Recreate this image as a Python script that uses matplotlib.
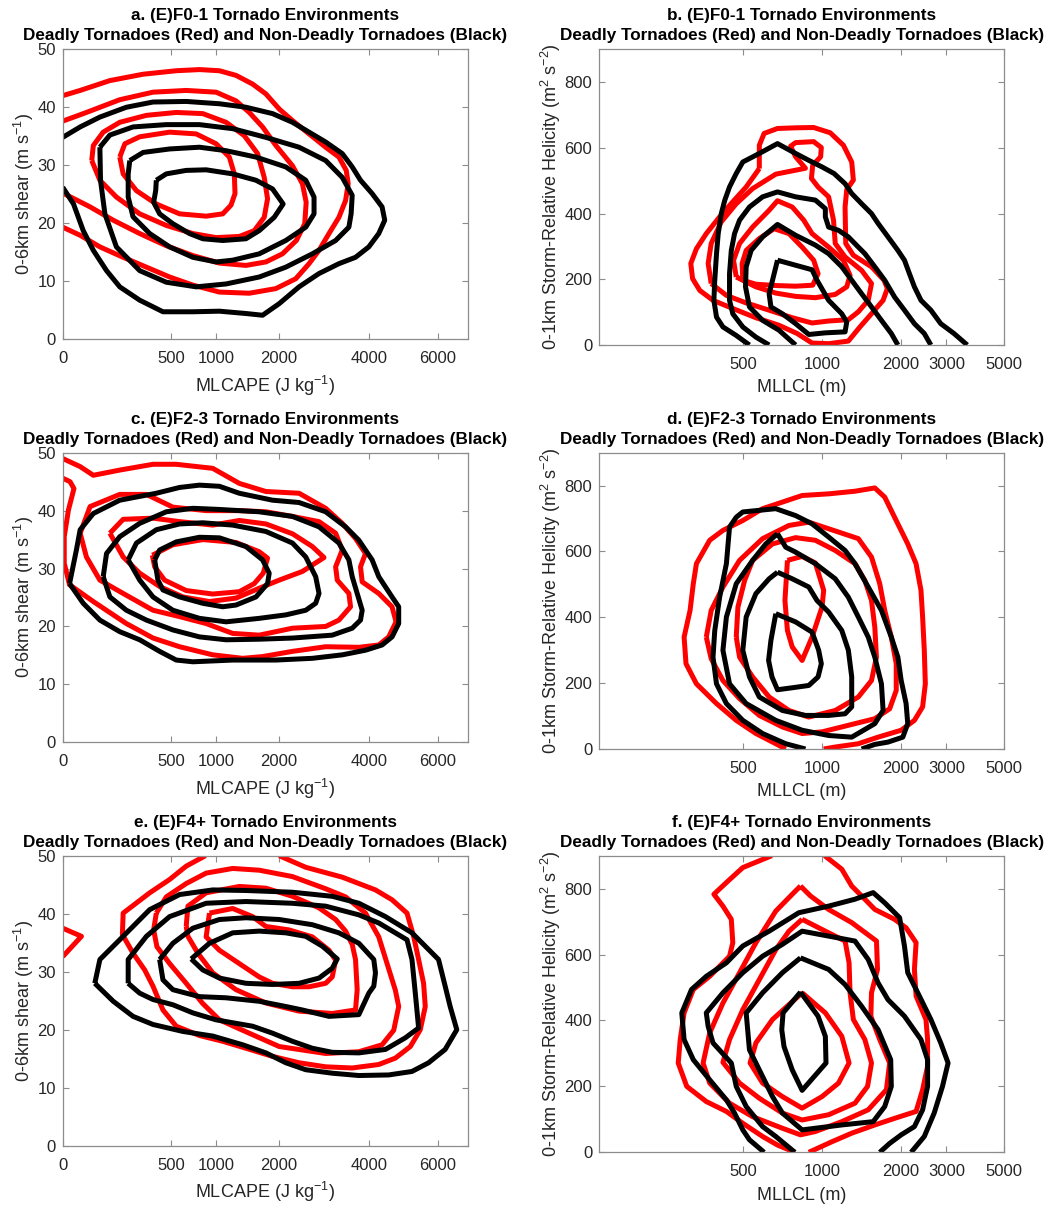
import numpy as np
import matplotlib
matplotlib.use('Agg')
import matplotlib.pyplot as plt
from matplotlib.ticker import NullLocator, FixedLocator, FixedFormatter

plt.rcParams['font.family'] = ['Liberation Sans', 'DejaVu Sans']
plt.rcParams['mathtext.fontset'] = 'custom'
plt.rcParams['mathtext.rm'] = 'Liberation Sans'
plt.rcParams['mathtext.it'] = 'Liberation Sans:italic'
plt.rcParams['mathtext.bf'] = 'Liberation Sans:bold'

# ---------------- data: contour outlines ----------------
# Panel a: (E)F0-1, x = MLCAPE (J/kg), y = 0-6 km shear (m/s)
A_R1_X = [0,13,95,276,550,798,1048,1282,1539,1762,2000,2253,2590,2951,3256,3431,3479,3415,3256,3026,2804,2590,2318,1939,1486,1048,723,488,299,156,59,13,0]
A_R1_Y = [42.0,42.9,44.6,45.7,46.3,46.5,46.3,45.5,44.0,42.3,39.7,37.7,35.4,33.1,31.4,29.1,26.8,23.9,21.0,18.2,15.3,13.0,10.4,8.7,7.9,8.1,9.3,10.7,12.4,14.1,15.9,17.9,19.3]
A_R2_X = [0,24,139,348,651,1004,1282,1486,1705,1939,2253,2452,2530,2500,2330,2061,1762,1433,1048,723,458,253,109,32,0]
A_R2_Y = [37.6,39.1,41.3,42.6,42.9,42.6,41.1,39.1,36.6,33.4,29.9,26.8,23.6,19.9,17.0,14.7,13.3,12.7,13.1,14.4,16.1,18.2,20.5,22.8,25.2]
A_R3_X = [36,40,70,139,299,550,838,1139,1407,1621,1733,1791,1733,1566,1331,1004,723,458,253,123,59,36]
A_R3_Y = [30.8,33.4,35.7,37.4,38.6,39.1,38.9,37.4,35.1,32.0,27.9,24.2,21.0,18.7,17.7,17.5,18.2,19.6,21.6,24.5,27.4,30.8]
A_R4_X = [139,165,253,488,760,1004,1185,1257,1267,1209,1093,878,583,374,232,156,139]
A_R4_Y = [31.4,33.7,34.9,35.7,35.4,33.7,31.4,28.5,25.1,23.1,21.6,21.2,21.6,23.3,25.6,28.5,31.4]
A_K1_X = [0,13,59,173,348,651,1048,1433,1879,2253,2590,2951,3335,3577,3785,4086,4353,4426,4263,3999,3659,3256,2804,2384,2000,1705,1433,1048,723,429,253,139,82,40,18,5,0]
A_K1_Y = [34.8,36.6,38.3,40.0,40.9,41.0,40.6,40.0,38.9,37.4,35.7,34.0,32.0,29.7,27.4,25.1,22.8,20.5,18.2,15.9,14.1,13.0,11.3,9.0,6.1,4.1,4.4,4.8,4.7,4.7,6.7,9.0,11.8,15.3,18.7,23.3,26.2]
A_K2_X = [59,95,211,458,798,1233,1762,2384,2951,3335,3577,3550,3495,3179,2660,2124,1648,1139,760,458,253,123,76,61,59]
A_K2_Y = [33.1,35.2,36.6,37.0,37.0,36.3,34.8,33.1,30.8,27.9,24.8,21.6,19.3,17.0,14.7,12.4,10.7,9.5,9.0,9.8,11.8,15.9,21.6,27.4,33.1]
A_K3_X = [192,276,488,798,1139,1594,2124,2521,2696,2696,2521,2124,1648,1233,1004,723,488,323,211,183,183,192]
A_K3_Y = [30.8,32.2,32.8,33.1,32.5,31.4,29.7,27.4,24.5,21.6,19.3,17.0,14.7,13.6,13.3,14.1,15.9,18.2,21.1,24.5,28.5,30.8]
A_K4_X = [374,458,651,878,1233,1594,1879,2074,1909,1648,1433,1093,838,686,518,401,353,369,374]
A_K4_Y = [27.4,28.5,29.1,29.2,28.5,27.4,25.9,23.3,21.0,18.7,17.3,17.0,17.3,18.2,19.9,21.6,23.6,25.6,27.4]

# Panel b: (E)F0-1, x = MLLCL (m), y = 0-1 km SRH (m2/s2)
B_R1_X = [575,575,600,675,792,929,1075,1208,1300,1319,1244,1226,1233,1319,1548,1730,1781,1715,1571,1398,1262,1060,916,803,684,558,455,382,340,319,314,330,360,405,455,512,575]
B_R1_Y = [537,608,644,659,661,662,646,608,557,502,473,420,309,273,238,197,172,136,101,55,12,4,6,35,60,83,111,136,166,202,248,293,339,390,436,481,537]
B_R2_X = [376,366,376,411,469,542,665,864,792,758,792,929,994,988,921,911,966,1060,1107,1124,1226,1419,1548,1504,1378,1262,1060,916,769,627,512,430,376]
B_R2_Y = [187,248,309,375,430,476,520,538,573,605,616,619,601,573,547,507,481,451,380,309,268,227,187,136,101,77,73,67,83,106,128,151,187]
B_R3_X = [469,458,483,542,627,675,769,851,916,1060,1208,1281,1244,1124,943,792,665,558,469]
B_R3_Y = [207,258,309,359,410,439,420,380,339,298,258,212,177,154,144,148,158,177,207]
B_R4_X = [497,494,512,575,655,747,839,929,966,921,792,665,558,497]
B_R4_Y = [197,248,288,324,354,339,298,258,217,182,179,181,185,197]
B_K1_X = [3605,3206,2853,2615,2396,2261,2164,2071,1954,1791,1641,1548,1419,1300,1226,1112,1000,890,792,675,575,497,469,442,424,411,400,394,388,385,394,417,469,527]
B_K1_Y = [0,35,65,106,136,177,217,258,288,329,370,400,430,461,491,522,542,562,583,613,583,557,522,481,441,400,339,278,197,136,85,55,29,0]
B_K2_X = [2615,2467,2261,2071,1898,1740,1594,1460,1378,1262,1157,1060,1030,1030,943,792,675,592,527,483,462,449,442,442,455,497,558,627]
B_K2_Y = [0,35,65,106,146,197,238,278,298,329,349,359,390,415,441,451,466,451,420,380,339,288,217,136,95,55,24,0]
B_K3_X = [1954,1844,1690,1548,1419,1300,1191,1060,943,792,675,592,535,512,509,527,592,684,792]
B_K3_Y = [0,35,75,116,156,197,238,278,304,334,367,329,288,238,177,116,75,45,0]
B_K4_X = [675,916,957,1060,1191,1244,1226,1030,890,792,705,637,627,646,675]
B_K4_Y = [258,229,197,136,95,70,40,37,32,65,95,116,156,197,258]

# Panel c: (E)F2-3, MLCAPE vs shear
C_R1_X = [0,13,40,139,348,550,961,1331,1762,2384,2951,3335,3659,3913,3785,3828,4263,4629,4742,4536,4263,3743,2951,2253,1705,1382,961,583,348,173,40,2,0.1,0.1,1.4,5.4,2.3,0]
C_R1_Y = [49.0,47.6,46.1,47.0,48.0,48.0,47.3,44.7,43.3,43.0,40.4,37.8,35.2,32.6,30.3,27.7,25.7,23.4,20.8,18.2,16.8,16.4,16.5,15.7,14.8,14.5,15.1,16.5,18.0,20.5,24.3,27.2,30.9,35.5,40.1,43.8,45.0,45.6]
C_R2_X = [13,32,139,299,518,878,1331,1762,2253,2804,3179,3335,3179,3217,3495,3536,3256,2951,2253,1648,1233,878,583,348,156,59,24,13]
C_R2_Y = [36.1,40.7,42.8,42.8,40.6,40.0,40.0,39.8,39.0,38.1,36.1,33.2,30.3,28.0,25.7,23.4,21.1,20.0,19.7,18.5,18.8,20.5,21.7,22.8,25.7,28.0,32.0,36.1]
C_R3_X = [95,156,348,583,961,1331,1762,2253,2660,2914,2452,2000,1648,1282,919,616,401,253,156,95]
C_R3_Y = [36.1,38.5,38.7,38.1,37.5,38.3,37.7,36.0,33.8,31.9,29.5,28.0,26.6,24.9,24.3,25.1,26.9,29.2,32.0,36.1]
C_R4_X = [343,518,838,1282,1648,1791,1716,1566,1331,961,651,443,361,343]
C_R4_Y = [32.3,34.1,35.0,34.5,32.9,31.8,29.2,27.4,26.0,25.6,26.2,28.0,30.3,32.3]
C_K1_X = [2,8,13,40,139,374,583,798,1048,1331,1879,2384,2951,3415,3742,4086,4263,4629,4818,4818,4629,4353,3913,3335,2660,1939,1233,723,550,401,253,139,59,18,2]
C_K1_Y = [27.4,33.2,36.7,39.5,41.8,43.0,44.0,44.4,44.2,43.0,41.8,41.4,39.8,37.2,34.9,31.5,28.6,25.1,23.4,20.5,18.2,16.8,15.9,15.1,14.5,14.2,14.2,13.9,14.2,15.7,17.7,19.1,21.1,24.0,27.4]
C_K2_X = [70,82,139,253,458,723,1048,1648,2253,2804,3256,3495,3577,3701,3828,3785,3577,3101,2253,1648,1139,798,518,299,173,95,70]
C_K2_Y = [28.6,32.6,35.5,37.8,39.8,40.4,40.2,39.8,39.0,37.2,34.4,31.5,28.6,25.7,22.8,21.1,19.7,18.5,18.0,17.8,17.7,18.2,19.4,21.1,22.8,25.1,28.6]
C_K3_X = [183,232,374,583,838,1233,1762,2253,2521,2731,2804,2731,2521,2124,1648,1139,798,518,348,253,183]
C_K3_Y = [31.5,34.4,36.7,37.7,37.9,37.5,36.4,34.4,32.0,28.6,25.7,24.0,22.8,22.0,21.4,20.8,21.4,22.8,25.1,28.0,31.5]
C_K4_X = [361,401,550,798,1048,1433,1705,1820,1791,1594,1282,1093,838,583,429,387,361]
C_K4_Y = [31.5,33.2,34.6,35.4,35.3,33.8,31.5,29.2,27.4,25.1,23.7,23.4,24.0,25.1,26.3,28.0,31.5]

# Panel d: (E)F2-3, MLLCL vs SRH
D_R1_X = [1015,1124,1378,1641,2012,2261,2431,2490,2467,2431,2396,2294,2132,1898,1740,1594,1338,1060,839,705,592,497,417,371,330,321,312,296,301,330,394,469,558,665,726]
D_R1_Y = [0,6,16,36,57,87,128,198,300,401,482,563,623,704,765,793,783,775,770,750,730,694,664,634,563,502,421,340,259,198,138,87,47,16,0]
D_R2_X = [360,376,417,483,592,747,890,1060,1378,1548,1665,1740,1844,1926,1926,1817,1594,1262,1000,839,705,575,483,417,376,360]
D_R2_Y = [340,421,492,573,639,679,689,669,639,583,502,421,340,259,178,122,92,72,52,47,67,102,153,208,274,340]
D_R3_X = [469,476,505,542,646,792,943,1124,1338,1460,1548,1594,1617,1548,1378,1124,890,747,627,542,483,469]
D_R3_Y = [340,431,512,573,623,642,634,603,563,512,451,370,279,208,158,117,97,117,158,219,279,340]
D_R4_X = [737,839,943,1015,1000,916,839,769,737,721,737]
D_R4_Y = [573,585,565,482,431,340,269,310,360,451,573]
D_K1_X = [864,726,592,497,430,394,382,388,405,430,442,469,497,665,792,916,1060,1226,1338,1504,1690,1844,1954,2012,2101,2132,2041,1791,1594,1419]
D_K1_Y = [0,16,47,87,138,198,279,360,461,563,674,704,720,730,709,684,644,603,563,492,421,340,279,208,138,77,36,21,14,0]
D_K2_X = [675,726,792,943,1124,1262,1378,1504,1594,1690,1715,1594,1300,1060,839,665,512,442,417,430,469,542,609,675]
D_K2_Y = [654,613,598,563,517,461,401,340,279,198,117,77,36,41,57,87,138,198,300,401,502,573,623,654]
D_K3_X = [675,769,890,957,1060,1191,1262,1300,1300,1226,1060,864,705,575,527,497,512,558,627,675]
D_K3_Y = [537,517,492,451,416,360,300,219,128,107,102,102,117,158,219,300,401,472,517,537]
D_K4_X = [665,792,916,971,994,966,890,769,675,643,624,637,665]
D_K4_Y = [411,386,355,300,259,219,193,186,180,219,269,330,411]

# Panel e: (E)F4+, MLCAPE vs shear
E_R0_X = [0,15,0]
E_R0_Y = [37.5,36.1,32.6]
E_R1_X = [870,651,488,323,156,152,211,287,348,429,550,798,1093,1433,1879,2384,2951,3577,4263,4723,5157,5457,5610,5558,5406,5256,5059,4629,4175,3335,2521,2000]
E_R1_Y = [50.0,48.2,45.9,43.6,40.1,36.4,33.2,30.3,27.5,23.4,20.6,19.0,18.0,16.8,15.4,14.3,13.6,13.4,14.0,15.1,17.1,20.0,24.0,28.0,32.1,36.1,40.1,42.4,44.1,46.3,48.0,50.0]
E_R2_X = [374,353,379,488,651,838,1048,1382,2000,2951,3743,4353,4676,4818,4723,4490,4263,3913,3415,2951,2253,1648,1233,878,651,458,374]
E_R2_Y = [40.1,37.2,34.3,31.4,28.0,24.5,21.7,19.9,17.1,15.9,16.2,17.4,19.9,24.0,26.8,31.4,36.0,40.1,42.9,44.3,46.4,47.5,47.8,47.0,45.2,42.9,40.1]
E_R3_X = [651,669,878,1331,1762,2253,2804,3179,3415,3577,3659,3701,3659,3101,2384,1762,1282,961,779,669,651]
E_R3_Y = [37.8,41.3,43.6,44.7,44.4,43.0,41.0,39.0,37.0,34.7,32.1,26.9,23.4,22.8,23.2,24.6,26.9,29.8,33.2,36.1,37.8]
E_R4_X = [919,1233,1539,1762,2188,2660,3026,3179,3101,2951,2590,2253,1879,1648,1331,1048,878,919]
E_R4_Y = [40.1,40.9,39.5,37.8,37.2,36.0,33.7,32.0,29.1,28.0,27.4,27.4,28.0,29.1,31.4,33.7,36.0,40.1]
E_K1_X = [44,59,156,323,583,961,1433,2253,3101,3743,4445,5206,6028,6243,6407,6628,6243,5713,5206,4536,3743,3101,2521,2124,1762,1382,961,616,348,211,109,44]
E_K1_Y = [28.0,32.1,36.1,40.7,43.3,44.1,44.0,43.7,43.0,41.8,39.5,36.7,32.1,27.5,24.0,20.0,16.6,14.3,12.8,12.2,12.1,12.5,13.1,14.3,16.0,17.4,18.9,19.7,20.9,22.3,24.9,28.0]
E_K2_X = [183,183,299,488,878,1433,2253,2951,3743,4263,5059,5206,5306,5406,5010,4445,3743,3101,2660,2253,1879,1539,1004,723,518,348,253,183]
E_K2_Y = [28.0,32.1,36.1,39.5,41.8,42.1,41.8,41.3,39.8,38.4,35.5,32.1,26.3,20.3,18.6,16.6,16.0,16.1,16.8,18.0,19.4,20.6,21.7,22.9,24.3,25.2,26.3,28.0]
E_K3_X = [401,518,723,1048,1433,2000,2660,3256,3743,4130,4175,4130,3999,3743,3026,2452,2124,1648,1139,798,518,429,401]
E_K3_Y = [32.1,34.9,37.5,39.0,39.3,39.0,38.1,36.7,34.9,32.1,29.8,27.5,26.3,22.6,22.3,23.4,24.0,24.9,25.5,25.7,26.9,28.6,32.1]
E_K4_X = [705,919,1233,1648,2124,2521,2877,3217,3101,2804,2384,1879,1433,1048,838,705]
E_K4_Y = [32.2,34.9,36.7,37.0,36.7,36.1,34.4,32.2,30.6,28.9,28.0,27.8,28.0,28.9,30.3,32.2]

# Panel f: (E)F4+, MLLCL vs SRH
F_R1A_X = [642,497,436,385,417,449,455,442,371,321,296,286,281,303,360,430,497,592,675,787]
F_R1A_Y = [900,864,823,783,747,707,636,595,534,494,423,342,271,200,154,124,88,48,22,0]
F_R1B_X = [1024,1191,1300,1460,1594,1898,2102,2295,2261,2295,2504,2540,2540,2431,2295,1898,1594,1300,1091,890]
F_R1B_Y = [900,859,808,768,737,707,681,636,555,474,403,342,261,190,124,103,83,58,32,0]
F_R2_X = [827,903,1060,1300,1618,1632,1548,1539,1665,1817,1766,1504,1191,943,827,705,542,442,371,350,371,417,483,558,665,769,827]
F_R2_Y = [808,778,737,697,641,555,484,413,342,271,190,129,93,63,53,73,108,149,210,271,362,453,545,636,732,783,808]
F_R3_X = [839,1030,1226,1270,1281,1319,1460,1548,1495,1338,1060,839,705,575,483,417,442,497,575,665,747,839]
F_R3_Y = [707,671,641,575,484,403,342,271,200,149,114,98,119,164,210,273,342,433,524,615,671,707]
F_R4_X = [839,1030,1191,1270,1157,1000,839,705,592,530,558,646,747,839]
F_R4_Y = [484,423,352,271,210,169,134,169,210,271,332,403,448,484]
F_K1_X = [600,527,497,462,430,371,321,296,290,316,360,430,497,627,815,1060,1338,1571,1740,1984,2071,2132,2363,2615,2853,3044,2897,2692,2467,2196]
F_K1_Y = [0,38,68,119,159,220,281,342,423,494,534,575,626,671,727,747,768,788,757,712,626,545,474,403,332,271,200,119,48,0]
F_K2_X = [787,665,592,512,469,449,382,366,360,417,497,592,705,839,1060,1338,1504,1641,1791,2071,2396,2540,2540,2431,2261,2012,1817,1665]
F_K2_Y = [0,48,78,139,200,271,332,382,423,484,545,595,631,671,656,641,585,514,463,413,342,281,200,129,78,53,27,0]
F_K3_X = [827,1060,1226,1419,1641,1834,1844,1740,1571,1191,839,705,646,575,527,512,592,705,827]
F_K3_Y = [590,555,509,443,372,281,200,139,93,83,68,119,169,250,311,423,484,545,590]
F_K4_X = [827,966,1030,1036,839,769,715,701,709,827]
F_K4_Y = [486,413,352,271,188,250,321,372,423,486]

# axis ticks / labels
CAPE_TICKS = [0, 500, 1000, 2000, 4000, 6000]
CAPE_LABELS = ['0', '500', '1000', '2000', '4000', '6000']
SHEAR_TICKS = [0, 10, 20, 30, 40, 50]
LCL_TICKS = [500, 1000, 2000, 3000, 5000]
LCL_LABELS = ['500', '1000', '2000', '3000', '5000']
SRH_TICKS = [0, 200, 400, 600, 800]
TITLES = ['a. (E)F0-1 Tornado Environments', 'b. (E)F0-1 Tornado Environments',
          'c. (E)F2-3 Tornado Environments', 'd. (E)F2-3 Tornado Environments',
          'e. (E)F4+ Tornado Environments', 'f. (E)F4+ Tornado Environments']
SUBTITLE = 'Deadly Tornadoes (Red) and Non-Deadly Tornadoes (Black)'

# ---------------- figure ----------------
W, H = 1059, 1205
fig = plt.figure(figsize=(W / 100, H / 100), dpi=100)


def add_axes(l, t, r, b):
    return fig.add_axes([l / W, 1 - b / H, (r - l) / W, (b - t) / H])


boxes = [(62.7, 49.3, 467.7, 339), (599.3, 49.3, 1004.3, 345),
         (62.7, 452.7, 467.7, 742.3), (599.3, 452.7, 1004.3, 749),
         (62.7, 855.7, 467.7, 1145.7), (599.3, 855.7, 1004.3, 1152.3)]

panels = [
    ('cape', [(A_R1_X, A_R1_Y), (A_R2_X, A_R2_Y), (A_R3_X, A_R3_Y), (A_R4_X, A_R4_Y)],
     [(A_K1_X, A_K1_Y), (A_K2_X, A_K2_Y), (A_K3_X, A_K3_Y), (A_K4_X, A_K4_Y)]),
    ('lcl', [(B_R1_X, B_R1_Y), (B_R2_X, B_R2_Y), (B_R3_X, B_R3_Y), (B_R4_X, B_R4_Y)],
     [(B_K1_X, B_K1_Y), (B_K2_X, B_K2_Y), (B_K3_X, B_K3_Y), (B_K4_X, B_K4_Y)]),
    ('cape', [(C_R1_X, C_R1_Y), (C_R2_X, C_R2_Y), (C_R3_X, C_R3_Y), (C_R4_X, C_R4_Y)],
     [(C_K1_X, C_K1_Y), (C_K2_X, C_K2_Y), (C_K3_X, C_K3_Y), (C_K4_X, C_K4_Y)]),
    ('lcl', [(D_R1_X, D_R1_Y), (D_R2_X, D_R2_Y), (D_R3_X, D_R3_Y), (D_R4_X, D_R4_Y)],
     [(D_K1_X, D_K1_Y), (D_K2_X, D_K2_Y), (D_K3_X, D_K3_Y), (D_K4_X, D_K4_Y)]),
    ('cape', [(E_R0_X, E_R0_Y), (E_R1_X, E_R1_Y), (E_R2_X, E_R2_Y), (E_R3_X, E_R3_Y), (E_R4_X, E_R4_Y)],
     [(E_K1_X, E_K1_Y), (E_K2_X, E_K2_Y), (E_K3_X, E_K3_Y), (E_K4_X, E_K4_Y)]),
    ('lcl', [(F_R1A_X, F_R1A_Y), (F_R1B_X, F_R1B_Y), (F_R2_X, F_R2_Y), (F_R3_X, F_R3_Y), (F_R4_X, F_R4_Y)],
     [(F_K1_X, F_K1_Y), (F_K2_X, F_K2_Y), (F_K3_X, F_K3_Y), (F_K4_X, F_K4_Y)]),
]


def sqrt_fwd(x):
    return np.sqrt(np.clip(x, 0, None))


def sqrt_inv(y):
    return np.square(y)


SPINE = '#8c8c8c'
TXT = '#262626'
LW = 3.6

for box, title, (kind, reds, blacks) in zip(boxes, TITLES, panels):
    ax = add_axes(*box)
    for x, y in reds:
        ax.plot(x, y, color='#ff0000', lw=LW, solid_joinstyle='round', solid_capstyle='butt')
    for x, y in blacks:
        ax.plot(x, y, color='#000000', lw=LW, solid_joinstyle='round', solid_capstyle='butt')
    if kind == 'cape':
        ax.set_xscale('function', functions=(sqrt_fwd, sqrt_inv))
        ax.set_xlim(0, 7000)
        ax.xaxis.set_major_locator(FixedLocator(CAPE_TICKS))
        ax.xaxis.set_major_formatter(FixedFormatter(CAPE_LABELS))
        ax.set_ylim(0, 50)
        ax.set_yticks(SHEAR_TICKS)
        ax.set_xlabel('MLCAPE (J kg$^{-1}$)', fontsize=13, color=TXT, labelpad=5.5)
        ax.set_ylabel('0-6km shear (m s$^{-1}$)', fontsize=13, color=TXT, labelpad=0.5)
    else:
        ax.set_xscale('log')
        ax.set_xlim(140, 5000)
        ax.xaxis.set_major_locator(FixedLocator(LCL_TICKS))
        ax.xaxis.set_major_formatter(FixedFormatter(LCL_LABELS))
        ax.set_ylim(0, 900)
        ax.set_yticks(SRH_TICKS)
        ax.set_xlabel('MLLCL (m)', fontsize=13, color=TXT, labelpad=5.5)
        ax.set_ylabel('0-1km Storm-Relative Helicity (m$^{2}$ s$^{-2}$)', fontsize=13, color=TXT, labelpad=1)
    ax.xaxis.set_minor_locator(NullLocator())
    ax.yaxis.set_minor_locator(NullLocator())
    for s in ax.spines.values():
        s.set_color(SPINE)
        s.set_linewidth(0.9)
    ax.tick_params(direction='in', top=True, right=True, length=4, width=0.8,
                   color=SPINE, labelcolor=TXT, labelsize=12)
    ax.tick_params(axis='x', pad=8.5)
    ax.tick_params(axis='y', pad=5)
    ax.set_title(title + '\n' + SUBTITLE, fontsize=12.3, fontweight='bold',
                 pad=6.5, linespacing=1.42, color='black')

fig.savefig('out.png', dpi=100)
